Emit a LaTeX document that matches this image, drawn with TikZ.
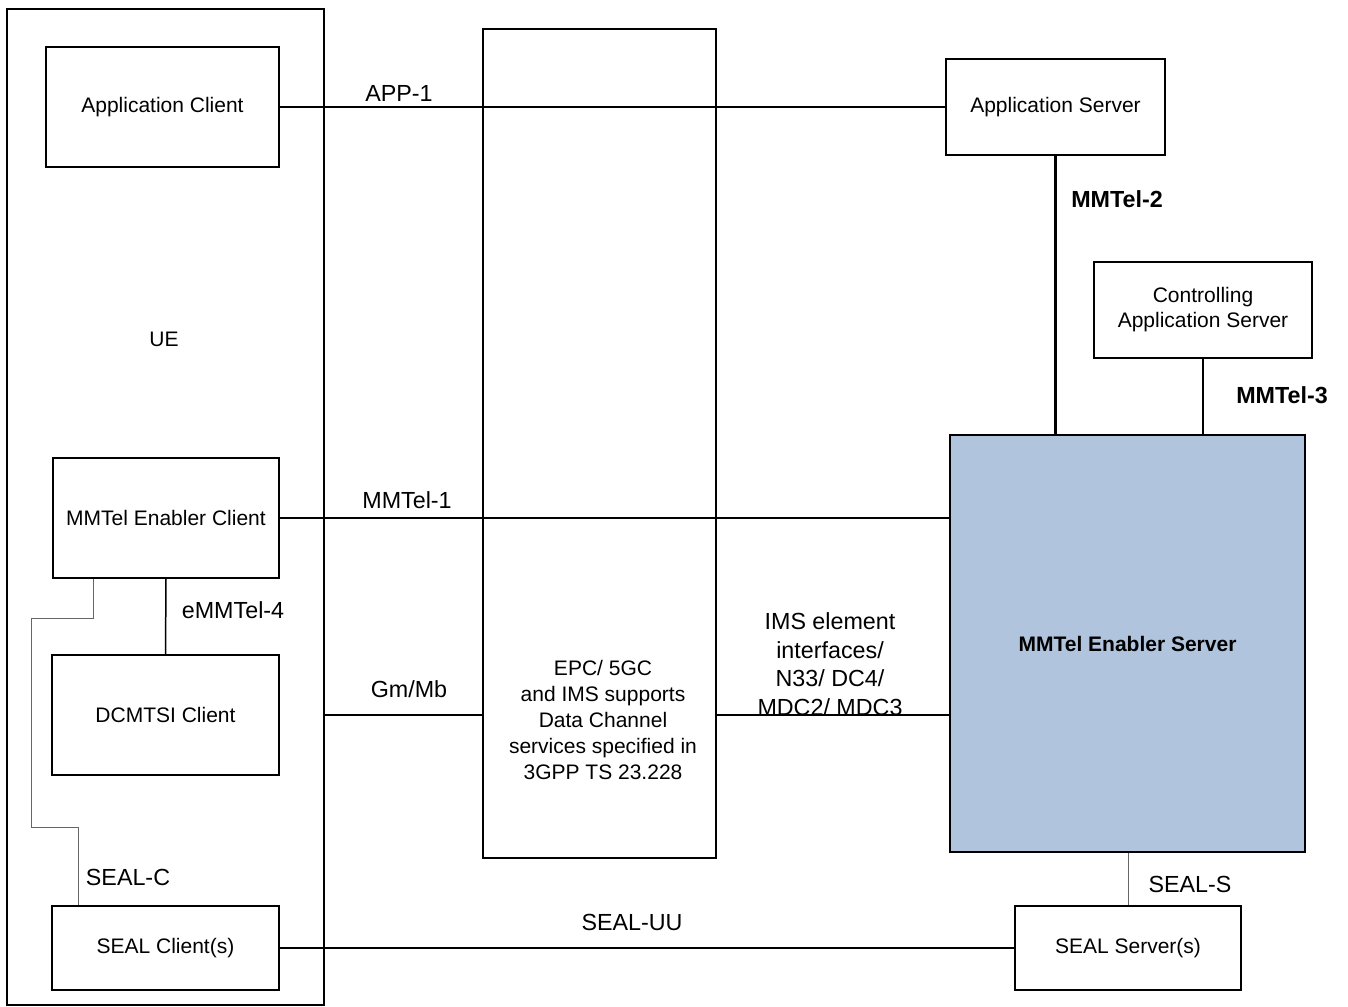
\documentclass[tikz,border=0pt]{standalone}
\usepackage{fontspec}
\setmainfont{Liberation Sans}
\definecolor{serverfill}{RGB}{176,196,222}
\begin{document}
\begin{tikzpicture}[x=1pt,y=-1pt,
 box/.style={draw, line width=1.6pt, inner sep=0pt, font=\fontsize{21}{25}\selectfont, align=center},
 conn/.style={line width=1.5pt},
 thickconn/.style={line width=2.8pt},
 greyconn/.style={line width=1pt, draw=black!60},
 lbl/.style={font=\fontsize{23.3}{28.5}\selectfont, text height=16.7pt, text depth=0pt, inner sep=0pt},
 blbl/.style={lbl, font=\fontsize{23.3}{28.5}\selectfont\bfseries},
]
\useasboundingbox (0,0) rectangle (1348,1006);
% UE container
\node[box, minimum width=317pt, minimum height=996pt] (ue) at (165.5,507) {};
\node[font=\fontsize{21}{25}\selectfont, text height=15pt, text depth=0pt, inner sep=0pt] (uelbl) at (164,339) {UE};
% client side boxes
\node[box, minimum width=233pt, minimum height=120pt] (ac) at (162.5,107) {Application Client};
\node[box, minimum width=226pt, minimum height=120pt] (mec) at (166,518) {MMTel Enabler Client};
\node[box, minimum width=227pt, minimum height=120pt] (dc) at (165.5,715) {DCMTSI Client};
\node[box, minimum width=227pt, minimum height=84pt] (scl) at (165.5,948) {SEAL Client(s)};
% core network
\node[box, minimum width=233pt, minimum height=829pt] (core) at (599.5,443.5) {};
\node[font=\fontsize{21}{26}\selectfont, align=center, inner sep=0pt] (coretext) at (603,720) {EPC/ 5GC\\and IMS supports\\Data Channel\\services specified in\\3GPP TS 23.228};
% server side boxes
\node[box, minimum width=219pt, minimum height=96pt] (as) at (1055.5,107) {Application Server};
\node[box, minimum width=218pt, minimum height=96pt] (cas) at (1203,310) {Controlling\\Application Server};
\node[box, fill=serverfill, minimum width=355pt, minimum height=417pt, font=\fontsize{21}{25}\selectfont\bfseries] (mes) at (1127.5,643.5) {MMTel Enabler Server};
\node[box, minimum width=226pt, minimum height=84pt] (ss) at (1128,948) {SEAL Server(s)};
% connectors
\draw[conn] (ac.east) -- (as.west);
\draw[conn] (mec.east) -- (mec.east -| mes.west);
\draw[conn] (dc.east -| ue.east) -- (dc.east -| core.west);
\draw[conn] (dc.east -| core.east) -- (dc.east -| mes.west);
\draw[conn] (mec.south) -- (dc.north);
\draw[conn] (scl.east) -- (ss.west);
\draw[thickconn] (as.south) -- (as.south |- mes.north);
\draw[thickconn] (cas.south) -- (cas.south |- mes.north);
\draw[greyconn] (ss.north) -- (ss.north |- mes.south);
\draw[greyconn] ([xshift=41pt]mec.south west) -- ++(0,40) -- ++(-62,0) -- ++(0,209) -| ([xshift=27pt]scl.north west);
% connector labels
\node[lbl] (lapp) at (399,93) {APP-1};
\node[lbl] (lm1) at (407,500) {MMTel-1};
\node[lbl] (lgm) at (409,689) {Gm/Mb};
\node[lbl] (le4) at (233,610) {eMMTel-4};
\node[lbl] (lsc) at (128,877) {SEAL-C};
\node[lbl] (luu) at (632,922) {SEAL-UU};
\node[lbl] (lss) at (1190,884) {SEAL-S};
\node[blbl] (lm2) at (1117,199) {MMTel-2};
\node[blbl] (lm3) at (1282,395) {MMTel-3};
\node[font=\fontsize{23.3}{28.5}\selectfont, align=center, inner sep=0pt] (lims) at (830,664) {IMS element\\interfaces/\\N33/ DC4/\\MDC2/ MDC3};
\end{tikzpicture}
\end{document}
